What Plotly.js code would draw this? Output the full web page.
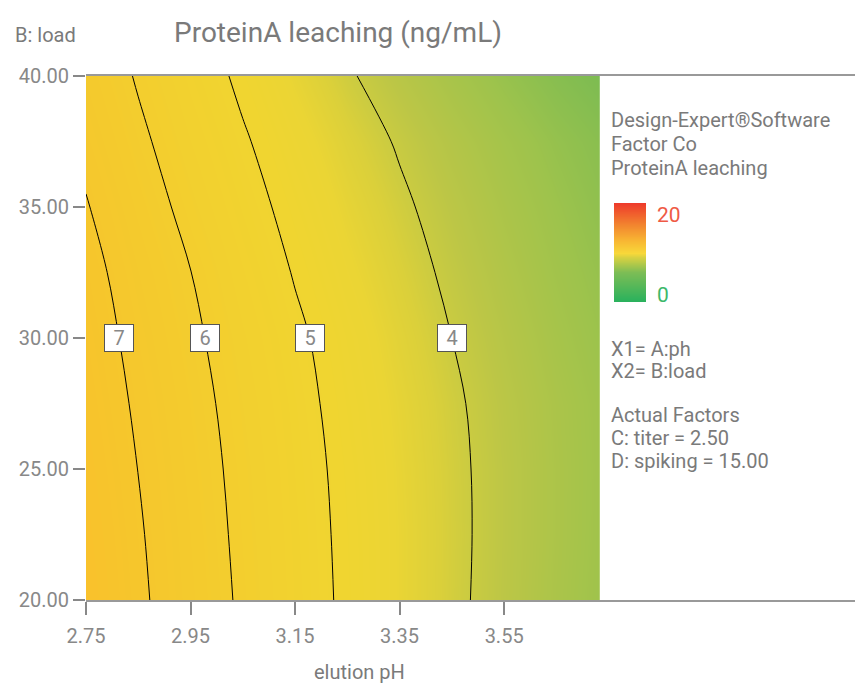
<!DOCTYPE html>
<html>
<head>
<meta charset="utf-8">
<script src="https://cdn.plot.ly/plotly-3.0.1.min.js"></script>
<style>html,body{margin:0;padding:0;background:#fff;}#chart{width:855px;height:683px;}</style>
</head>
<body>
<div id="chart"></div>
<script>
// ---- data ----
const phValues = [2.75, 2.85, 2.95, 3.05, 3.15, 3.25, 3.35, 3.45, 3.55, 3.65, 3.733];
const loadValues = [20, 22.5, 25, 27.5, 30, 32.5, 35, 37.5, 40];
const leaching = [
  [7.91, 7.15, 6.47, 5.89, 5.34, 4.88, 4.46, 4.11, 3.80, 3.52, 3.32],
  [7.81, 7.08, 6.42, 5.84, 5.31, 4.86, 4.46, 4.12, 3.81, 3.54, 3.34],
  [7.69, 6.99, 6.35, 5.79, 5.27, 4.83, 4.44, 4.11, 3.81, 3.54, 3.35],
  [7.56, 6.88, 6.27, 5.71, 5.21, 4.77, 4.40, 4.08, 3.78, 3.52, 3.34],
  [7.43, 6.75, 6.15, 5.60, 5.12, 4.69, 4.32, 4.00, 3.71, 3.45, 3.27],
  [7.28, 6.59, 6.01, 5.44, 4.96, 4.55, 4.21, 3.90, 3.62, 3.37, 3.20],
  [7.05, 6.38, 5.78, 5.25, 4.80, 4.41, 4.09, 3.79, 3.52, 3.29, 3.12],
  [6.80, 6.15, 5.57, 5.07, 4.63, 4.26, 3.95, 3.66, 3.41, 3.19, 3.04],
  [6.56, 5.93, 5.36, 4.87, 4.43, 4.06, 3.74, 3.46, 3.22, 3.01, 2.87]
];
const contourLevels = [4, 5, 6, 7];
const labelLoad = 30;
const xTicks = [2.75, 2.95, 3.15, 3.35, 3.55];
const yTicks = [20, 25, 30, 35, 40];
const legendMin = 0, legendMax = 20;
const titleText = 'ProteinA leaching (ng/mL)';
const xTitle = 'elution pH';
const yTitle = 'B: load';
const infoLines = ['Design-Expert®Software', 'Factor Co', 'ProteinA leaching'];
const factorLines = ['X1= A:ph', 'X2= B:load'];
const actualLines = ['Actual Factors', 'C: titer = 2.50', 'D: spiking = 15.00'];

// ---- styling ----
const W = 855, H = 683, ML = 86, MT = 76, MB = 83;
const plotW = W - ML, plotH = H - MT - MB;
const px2x = p => (p - ML) / plotW;
const py2y = p => (H - MB - p) / plotH;
const txt = '#7a7a7a';
const FONT = 'Roboto, "Liberation Sans", sans-serif';

const zmin = 2.85, zmax = 7.95;
const sc = (z, c) => [(z - zmin) / (zmax - zmin), c];
const plotScale = [
  sc(2.85, '#7bbb52'), sc(3.3, '#9ec34c'), sc(3.8, '#bcc646'), sc(4.0, '#cacb41'),
  sc(4.2, '#dbd03a'), sc(4.5, '#ebd534'), sc(4.9, '#f0d530'), sc(5.5, '#f2d12f'),
  sc(6.5, '#f4ca2d'), sc(7.5, '#f7c42c'), sc(7.95, '#fac12c')
];
const legendScale = [
  [0, '#27b15d'], [0.3, '#7dbd55'], [0.5, '#f8d83a'], [0.62, '#f8b833'],
  [0.78, '#f2862f'], [1, '#ee3b2b']
];

// label positions from the data (crossing along the row at labelLoad)
const rowIdx = loadValues.indexOf(labelLoad);
function crossing(row, level) {
  for (let i = 0; i < row.length - 1; i++) {
    const a = row[i] - level, b = row[i + 1] - level;
    if (a === 0) return phValues[i];
    if (a * b < 0) return phValues[i] + (level - row[i]) / (row[i + 1] - row[i]) * (phValues[i + 1] - phValues[i]);
  }
  return null;
}

// legend colour bar as a small heatmap column from legendMin to legendMax
const legendSteps = [];
for (let v = legendMin; v <= legendMax; v += 1) legendSteps.push(v);

const traces = [
  {
    type: 'contour', x: phValues, y: loadValues, z: leaching,
    zmin: zmin, zmax: zmax, zauto: false, colorscale: plotScale, showscale: false,
    autocontour: false,
    contours: {start: contourLevels[0], end: contourLevels[contourLevels.length - 1], size: 1,
               coloring: 'heatmap', showlines: true, showlabels: false},
    line: {color: '#000', width: 1, smoothing: 1},
    hoverinfo: 'skip'
  },
  {
    type: 'heatmap', xaxis: 'x2', yaxis: 'y2', x: [0], y: legendSteps, z: legendSteps.map(v => [v]),
    zmin: legendMin, zmax: legendMax, colorscale: legendScale, showscale: false, zsmooth: 'best',
    hoverinfo: 'skip'
  }
];

const annotations = [];
contourLevels.forEach(lv => {
  const xc = crossing(leaching[rowIdx], lv);
  if (xc !== null) annotations.push({
    x: xc, y: labelLoad, xref: 'x', yref: 'y', text: String(lv), showarrow: false,
    bgcolor: '#fff', bordercolor: '#555', borderwidth: 1, borderpad: 1, width: 26, height: 24,
    font: {family: FONT, size: 20, color: '#888'}
  });
});
const addText = (text, px, py, opts) => annotations.push(Object.assign({
  text: text, x: px2x(px), y: py2y(py), xref: 'paper', yref: 'paper', showarrow: false,
  xanchor: 'left', yanchor: 'middle', font: {family: FONT, size: 20, color: txt}
}, opts || {}));
addText(yTitle, 13, 35);
addText(xTitle, 359, 672, {xanchor: 'center'});
infoLines.forEach((t, i) => addText(t, 609, 120 + i * 24));
factorLines.forEach((t, i) => addText(t, 609, 349 + i * 22));
actualLines.forEach((t, i) => addText(t, 609, 415 + i * 23));
addText(String(legendMax), 655, 215, {font: {family: FONT, size: 21, color: '#ef5a45'}});
addText(String(legendMin), 655, 295, {font: {family: FONT, size: 21, color: '#3db86a'}});

const layout = {
  width: W, height: H,
  margin: {l: ML, r: 0, t: MT, b: MB, pad: 0},
  paper_bgcolor: '#fff', plot_bgcolor: '#fff',
  showlegend: false,
  font: {family: FONT, color: txt},
  title: {text: titleText, font: {family: FONT, size: 28, color: txt},
          xref: 'container', yref: 'container', x: 338 / W, xanchor: 'center', y: 1 - 32 / H, yanchor: 'middle'},
  xaxis: {range: [2.75, 4.2213], tickvals: xTicks, tickformat: '.2f', ticks: 'outside', ticklen: 13,
          tickwidth: 2, tickcolor: '#888', showline: true, linecolor: '#999', linewidth: 2, mirror: true,
          layer: 'below traces', showgrid: false, zeroline: false, fixedrange: true, ticklabelstandoff: 4,
          tickfont: {family: FONT, size: 20, color: '#888'}},
  yaxis: {range: [20, 40], tickvals: yTicks, tickformat: '.2f', ticks: 'outside', ticklen: 12,
          tickwidth: 2, tickcolor: '#888', showline: false, showgrid: false, zeroline: false, fixedrange: true,
          tickfont: {family: FONT, size: 20, color: '#888'}},
  xaxis2: {domain: [px2x(614), px2x(646)], anchor: 'y2', range: [-0.5, 0.5], visible: false, fixedrange: true},
  yaxis2: {domain: [py2y(302), py2y(203)], anchor: 'x2', range: [legendMin, legendMax], visible: false, fixedrange: true},
  annotations: annotations
};

Plotly.newPlot('chart', traces, layout, {displayModeBar: false, staticPlot: true});
</script>
</body>
</html>
